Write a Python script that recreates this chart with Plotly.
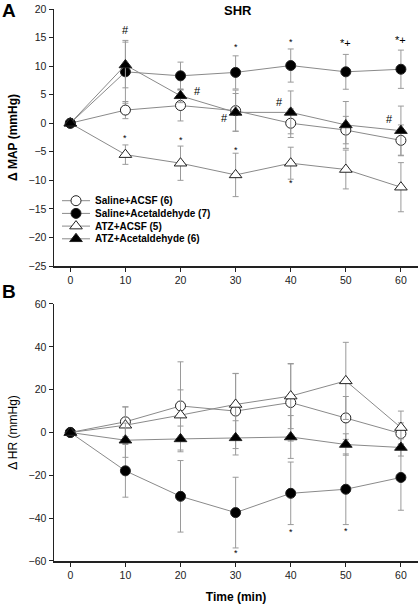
import plotly.graph_objects as go

time = [0, 10, 20, 30, 40, 50, 60]
names = ["Saline+ACSF (6)", "Saline+Acetaldehyde (7)", "ATZ+ACSF (5)", "ATZ+Acetaldehyde (6)"]

# Panel A: delta MAP (mmHg)
map_sal_acsf = [0, 2.3, 3.1, 2.2, 0.0, -1.2, -3.0]
map_sal_acsf_sem = [0, 1.5, 2.7, 3.6, 2.5, 2.4, 2.7]
map_sal_acet = [0, 9.0, 8.3, 8.9, 10.1, 9.0, 9.45]
map_sal_acet_sem = [0, 5.5, 2.4, 2.9, 2.9, 3.05, 3.35]
map_atz_acsf = [0, -5.5, -7.0, -9.05, -7.0, -8.1, -11.2]
map_atz_acsf_sem = [0, 1.7, 3.0, 3.8, 2.8, 3.4, 4.3]
map_atz_acet = [0, 10.2, 4.8, 1.9, 1.9, -0.3, -1.3]
map_atz_acet_sem = [0, 4.0, 1.2, 3.3, 3.75, 4.1, 4.3]

# Panel B: delta HR
hr_sal_acsf = [0, 5.0, 12.4, 10.0, 14.0, 6.8, -0.5]
hr_sal_acsf_sem = [0, 7.0, 20.6, 17.5, 18.0, 10.0, 5.0]
hr_sal_acet = [0, -17.9, -29.8, -37.4, -28.4, -26.5, -21.0]
hr_sal_acet_sem = [0, 12.3, 16.7, 16.5, 14.6, 16.5, 15.3]
hr_atz_acsf = [0, 3.4, 8.1, 13.1, 17.0, 24.1, 2.3]
hr_atz_acsf_sem = [0, 8.5, 11.8, 14.5, 15.2, 18.0, 7.7]
hr_atz_acet = [0, -3.6, -3.0, -2.5, -2.1, -5.6, -7.0]
hr_atz_acet_sem = [0, 8.0, 6.0, 8.0, 10.0, 5.0, 4.0]

# significance marks: (time, value, text)
marks_a = [(10, 16.3, "#"), (23, 5.7, "#"), (28, 1.0, "#"), (38, 3.7, "#"), (58, 0.7, "#"),
           (30, 13.4, "*"), (40, 14.3, "*"), (50, 14.1, "*+"), (60, 14.6, "*+"),
           (10, -2.6, "*"), (20, -2.9, "*"), (30, -4.7, "*"), (40, -10.5, "*")]
marks_b = [(30, -56.3, "*"), (40, -46.4, "*"), (50, -45.8, "*")]

styles = [
    dict(symbol="circle", color="white", size=10),
    dict(symbol="circle", color="black", size=10),
    dict(symbol="triangle-up", color="white", size=11),
    dict(symbol="triangle-up", color="black", size=11),
]

FONT = "Liberation Sans, Arial, sans-serif"
W, H = 420, 607
ml, mr, mt, mb = 54, 2, 9, 46
pw, ph = W - ml - mr, H - mt - mb

fig = go.Figure()

series_a = [(map_sal_acsf, map_sal_acsf_sem), (map_sal_acet, map_sal_acet_sem),
            (map_atz_acsf, map_atz_acsf_sem), (map_atz_acet, map_atz_acet_sem)]
series_b = [(hr_sal_acsf, hr_sal_acsf_sem), (hr_sal_acet, hr_sal_acet_sem),
            (hr_atz_acsf, hr_atz_acsf_sem), (hr_atz_acet, hr_atz_acet_sem)]

for axes, series in ((("x", "y"), series_a), (("x2", "y2"), series_b)):
    for i, (vals, sem) in enumerate(series):
        st = styles[i]
        fig.add_trace(go.Scatter(
            x=time, y=vals, name=names[i], mode="lines+markers",
            line=dict(color="#8a8a8a", width=1),
            marker=dict(symbol=st["symbol"], size=st["size"], color=st["color"],
                        line=dict(color="#222", width=1)),
            error_y=dict(type="data", array=sem, color="#9a9a9a", thickness=1, width=3),
            xaxis=axes[0], yaxis=axes[1], showlegend=False))

# custom compact legend, drawn on an invisible pixel-scaled axis pair
leg_x0, leg_x1, leg_text_x = 62, 90, 93
leg_rows = [200.7, 213.4, 226.1, 238.8]
annotations = []
for i, yrow in enumerate(leg_rows):
    st = styles[i]
    fig.add_trace(go.Scatter(
        x=[leg_x0, leg_x1], y=[yrow, yrow], mode="lines",
        line=dict(color="#8a8a8a", width=1), xaxis="x3", yaxis="y3",
        showlegend=False, hoverinfo="skip"))
    fig.add_trace(go.Scatter(
        x=[(leg_x0 + leg_x1) / 2], y=[yrow], mode="markers",
        marker=dict(symbol=st["symbol"], size=st["size"], color=st["color"],
                    line=dict(color="#222", width=1)),
        xaxis="x3", yaxis="y3", showlegend=False, hoverinfo="skip"))
    annotations.append(dict(x=leg_text_x, y=yrow, xref="x3", yref="y3",
                            text="<b>" + names[i] + "</b>", showarrow=False,
                            xanchor="left", yanchor="middle",
                            font=dict(family=FONT, size=10, color="black")))

for (t, v, s) in marks_a:
    annotations.append(dict(x=t, y=v, xref="x", yref="y", text=s, showarrow=False,
                            font=dict(family=FONT, size=11 if s != "*" else 9, color="black")))
for (t, v, s) in marks_b:
    annotations.append(dict(x=t, y=v, xref="x2", yref="y2", text=s, showarrow=False,
                            font=dict(family=FONT, size=9, color="black")))

def px_to_paper(px, py):
    return (px - ml) / pw, (H - mb - py) / ph

for txt, px, py, size, anchor in (("<b>A</b>", 0, 10, 19, "left"),
                                  ("<b>B</b>", 0, 292, 19, "left"),
                                  ("<b>SHR</b>", 238, 10, 13, "center")):
    xx, yy = px_to_paper(px, py)
    annotations.append(dict(x=xx, y=yy, xref="paper", yref="paper", text=txt,
                            showarrow=False, xanchor=anchor, yanchor="middle",
                            font=dict(family=FONT, size=size, color="black")))

axis_common = dict(showline=True, linecolor="#222", linewidth=1.5, ticks="outside",
                   ticklen=4, tickcolor="#222", showgrid=False, zeroline=False,
                   tickfont=dict(family=FONT, size=10.5, color="#222"))

fig.update_layout(
    width=W, height=H,
    margin=dict(l=ml, r=mr, t=mt, b=mb),
    paper_bgcolor="white", plot_bgcolor="rgba(0,0,0,0)",
    font=dict(family=FONT),
    showlegend=False,
    hovermode=False,
    xaxis=dict(domain=[0, 1], range=[-2.96, 63.1], tickvals=time, anchor="y", **axis_common),
    yaxis=dict(domain=[0.5344, 1], range=[-25, 20], dtick=5, anchor="x",
               title=dict(text="<b>Δ MAP (mmHg)</b>", font=dict(family=FONT, size=12, color="black"), standoff=8),
               **axis_common),
    xaxis2=dict(domain=[0, 1], range=[-2.96, 63.1], tickvals=time, anchor="y2",
                title=dict(text="<b>Time (min)</b>", font=dict(family=FONT, size=12, color="black"), standoff=12),
                **axis_common),
    yaxis2=dict(domain=[0, 0.4656], range=[-60, 60], dtick=20, anchor="x2",
                title=dict(text="Δ HR (mmHg)", font=dict(family=FONT, size=12, color="black"), standoff=8),
                **axis_common),
    xaxis3=dict(domain=[0, 1], range=[ml, W - mr], visible=False, fixedrange=True, anchor="y3"),
    yaxis3=dict(domain=[0, 1], range=[H - mb, mt], visible=False, fixedrange=True, anchor="x3"),
    annotations=annotations,
)

fig.write_html("out.html", config={"displayModeBar": False, "staticPlot": True},
               post_script="document.body.style.margin='0';")
